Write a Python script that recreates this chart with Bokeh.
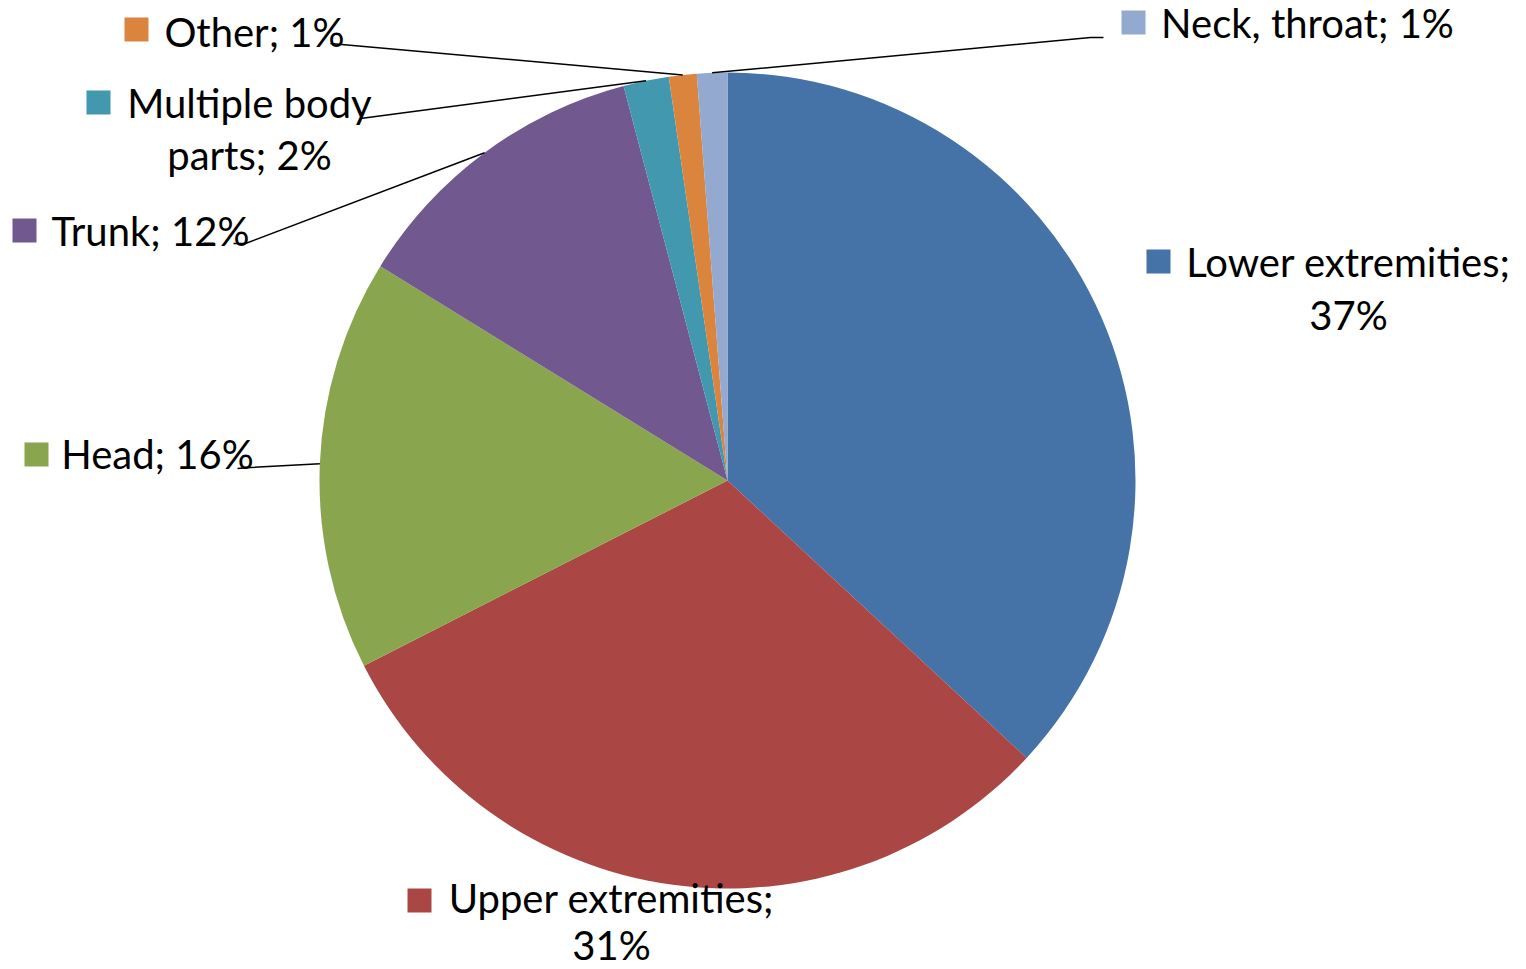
import numpy as np
from bokeh.plotting import figure
from bokeh.models import Range1d, ColumnDataSource
from bokeh.core.properties import value
from bokeh.embed import file_html
from bokeh.resources import INLINE

# ---------------- data ----------------
categories = ["Lower extremities", "Upper extremities", "Head", "Trunk",
              "Multiple body parts", "Other", "Neck, throat"]
values = [36.9, 30.6, 16.3, 12.1, 1.8, 1.1, 1.2]
colors = ["#4572A7", "#AA4643", "#89A54E", "#71588F", "#4198AF", "#DB843D", "#93A9CF"]
label_line1 = ["Lower extremities;", "Upper extremities;", "Head;", "Trunk;",
               "Multiple body", "Other;", "Neck, throat;"]

# ---------------- layout (pixel positions, y from top) ----------------
W, H = 1526, 969
CX, CY, R = 727, 480, 408
FONT = "Lato"
FS = 40
SHIFT = 15

def Y(y):
    return H - y

vals = np.array(values, dtype=float)
frac = vals / vals.sum()
cum_end = np.cumsum(frac)
cum_start = cum_end - frac
start_angle = np.pi / 2 - 2 * np.pi * cum_start
end_angle = np.pi / 2 - 2 * np.pi * cum_end
mid = (cum_start + cum_end) / 2
mid_angle = np.pi / 2 - 2 * np.pi * mid
pct = [f"{int(round(v))}%" for v in values]

# label text layout: (center_x, baseline line1, baseline line2 or None, square center x, square center y)
label_layout = {
    "Lower extremities": (1348, 276, 329, 1158, 261),
    "Upper extremities": (611, 912, 959, 419, 900),
    "Head": (157, 468, None, 36, 454),
    "Trunk": (150, 245, None, 24, 230),
    "Multiple body parts": (249, 117, 169, 98, 102),
    "Other": (254, 46, None, 136, 29),
    "Neck, throat": (1307, 37, None, 1133, 22),
}
# leader line: elbow points from pie edge toward label (pixel coords)
leader_pts = {
    "Head": [(250, 467), (237, 468)],
    "Trunk": [(245, 243), (233, 243)],
    "Multiple body parts": [(360, 118)],
    "Other": [(330, 43)],
    "Neck, throat": [(1090, 37), (1103, 37)],
}

p = figure(width=W, height=H, x_range=Range1d(0, W), y_range=Range1d(0, H),
           output_backend="svg", toolbar_location=None, min_border=0,
           x_axis_location=None, y_axis_location=None)
p.grid.visible = False
p.outline_line_color = None
p.background_fill_color = "white"
p.border_fill_color = "white"

src = ColumnDataSource(dict(cat=categories, start=start_angle, end=end_angle, color=colors))
p.wedge(x=CX, y=Y(CY), radius=R, start_angle="start", end_angle="end",
        direction="clock", fill_color="color", line_color=None, source=src)

# leader lines
xs, ys = [], []
for i, c in enumerate(categories):
    if c not in leader_pts:
        continue
    ax = CX + R * np.cos(mid_angle[i])
    ay = Y(CY) + R * np.sin(mid_angle[i])
    lx = [ax] + [q[0] for q in leader_pts[c]]
    ly = [ay] + [Y(q[1]) for q in leader_pts[c]]
    xs.append(lx)
    ys.append(ly)
p.multi_line(xs=xs, ys=ys, line_color="black", line_width=1.5)

# labels
tx, ty, tt = [], [], []
sx, sy, sc = [], [], []
for i, c in enumerate(categories):
    cxl, b1, b2, qx, qy = label_layout[c]
    sx.append(qx); sy.append(Y(qy)); sc.append(colors[i])
    if b2 is None:
        tx.append(cxl); ty.append(Y(b1 - SHIFT)); tt.append(f"{label_line1[i]} {pct[i]}")
    else:
        if c == "Multiple body parts":
            l2 = f"parts; {pct[i]}"
        else:
            l2 = pct[i]
        tx += [cxl, cxl]; ty += [Y(b1 - SHIFT), Y(b2 - SHIFT)]; tt += [label_line1[i], l2]

p.scatter(x=sx, y=sy, marker="square", size=24, fill_color=sc, line_color=None)
p.text(x=tx, y=ty, text=tt, text_font=value(FONT), text_font_size=f"{FS}px",
       text_align="center", text_baseline="alphabetic", text_color="black")

open("out.html", "w").write(file_html(p, INLINE))
